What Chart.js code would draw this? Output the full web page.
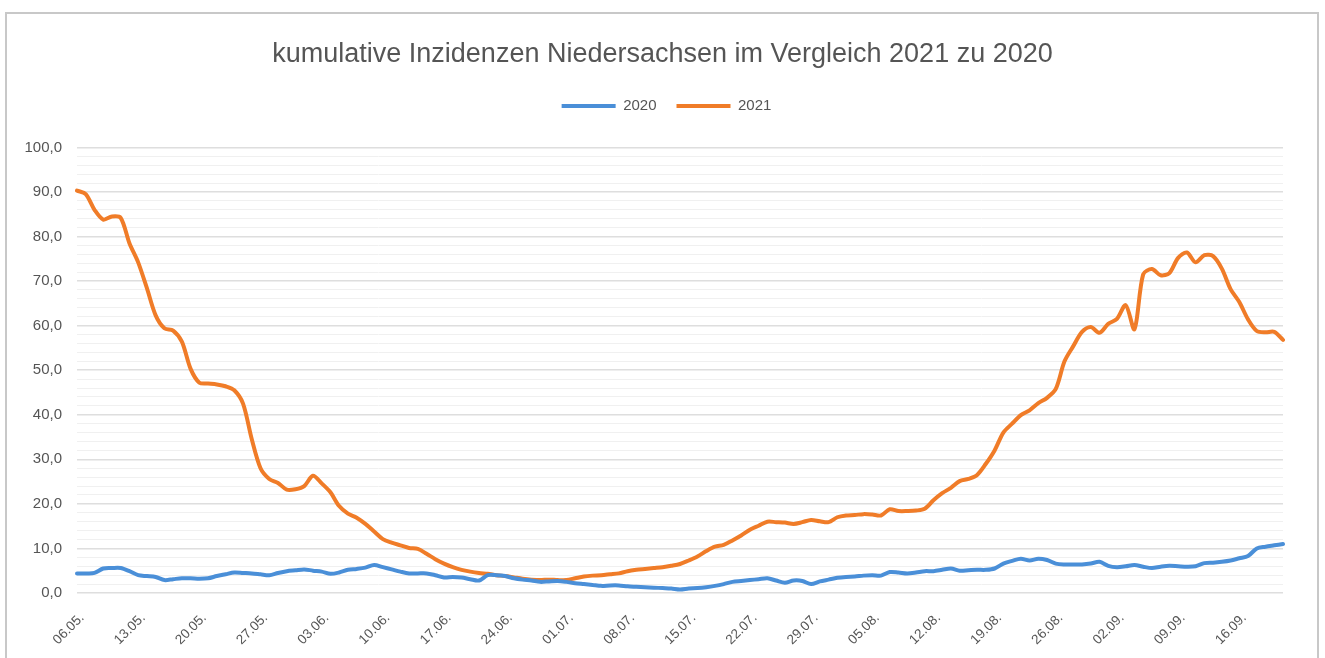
<!DOCTYPE html>
<html>
<head>
<meta charset="utf-8">
<script src="https://cdn.jsdelivr.net/npm/chart.js@4"></script>
<style>
  html, body { margin: 0; padding: 0; background: #fff; }
  #frame { position: absolute; left: 5px; top: 12px; width: 1314px; height: 700px;
           border: 2px solid #c8c8c8; box-sizing: border-box; }
  #wrap { position: absolute; left: 0; top: 0; width: 1325px; height: 658px; }
</style>
</head>
<body>
<div id="frame"></div>
<div id="wrap"><canvas id="c" width="1325" height="658"></canvas></div>
<script>
// ---- data ----
const startDay = { day: 6, month: 5, year: 2021 };
const dayCount = 139; // 06.05. ... 21.09.
const labels = [];
(function () {
  const d = new Date(Date.UTC(startDay.year, startDay.month - 1, startDay.day));
  for (let i = 0; i < dayCount; i++) {
    const dd = String(d.getUTCDate()).padStart(2, '0');
    const mm = String(d.getUTCMonth() + 1).padStart(2, '0');
    labels.push(dd + '.' + mm + '.');
    d.setUTCDate(d.getUTCDate() + 1);
  }
})();

const values2020 = [
  4.4, 4.4, 4.5, 5.5, 5.6, 5.6, 4.9, 4.0, 3.8, 3.6,
  2.9, 3.1, 3.3, 3.3, 3.2, 3.3, 3.8, 4.2, 4.6, 4.5,
  4.4, 4.2, 4.0, 4.5, 4.9, 5.1, 5.3, 5.0, 4.8, 4.3,
  4.6, 5.2, 5.4, 5.7, 6.3, 5.8, 5.3, 4.8, 4.4, 4.4,
  4.4, 4.0, 3.5, 3.6, 3.5, 3.1, 2.8, 4.0, 4.0, 3.8,
  3.3, 3.0, 2.8, 2.5, 2.6, 2.7, 2.5, 2.2, 2.0, 1.8,
  1.6, 1.7, 1.7, 1.5, 1.4, 1.3, 1.2, 1.1, 1.0, 0.8,
  1.0, 1.1, 1.3, 1.6, 2.0, 2.5, 2.7, 2.9, 3.1, 3.3,
  2.8, 2.3, 2.8, 2.7, 2.0, 2.6, 3.0, 3.4, 3.6, 3.7,
  3.9, 4.0, 3.9, 4.7, 4.6, 4.4, 4.6, 4.9, 4.9, 5.2,
  5.5, 5.0, 5.1, 5.2, 5.2, 5.5, 6.6, 7.2, 7.7, 7.3,
  7.7, 7.4, 6.6, 6.4, 6.4, 6.4, 6.6, 7.0, 6.1, 5.8,
  6.0, 6.3, 5.9, 5.6, 5.9, 6.1, 6.0, 5.9, 6.0, 6.7,
  6.8, 7.0, 7.3, 7.8, 8.3, 10.0, 10.4, 10.7, 11.0
];

const values2021 = [
  90.3, 89.5, 86.0, 83.8, 84.5, 84.2, 78.5, 74.2, 68.4, 62.3,
  59.4, 58.9, 56.4, 50.3, 47.2, 47.0, 46.8, 46.4, 45.5, 42.5,
  34.5, 28.0, 25.6, 24.7, 23.2, 23.3, 24.0, 26.3, 24.6, 22.6,
  19.5, 17.8, 16.9, 15.5, 13.8, 12.1, 11.3, 10.7, 10.1, 9.9,
  8.8, 7.6, 6.6, 5.8, 5.2, 4.8, 4.5, 4.3, 4.0, 3.8,
  3.5, 3.2, 3.0, 2.9, 3.0, 2.9, 2.9, 3.3, 3.7, 3.9,
  4.0, 4.2, 4.4, 4.9, 5.2, 5.4, 5.6, 5.8, 6.1, 6.5,
  7.3, 8.2, 9.4, 10.4, 10.8, 11.8, 12.9, 14.2, 15.1, 16.0,
  15.9, 15.8, 15.5, 15.9, 16.4, 16.1, 15.9, 17.0, 17.4, 17.5,
  17.7, 17.6, 17.4, 18.8, 18.4, 18.4, 18.5, 18.9, 20.8, 22.4,
  23.6, 25.1, 25.6, 26.5, 29.0, 32.0, 36.0, 38.0, 39.9, 41.0,
  42.6, 43.8, 45.8, 52.0, 55.4, 58.6, 59.7, 58.4, 60.4, 61.5,
  64.6, 59.2, 71.5, 72.7, 71.3, 71.8, 75.2, 76.4, 74.2, 75.8,
  75.6, 72.8, 68.2, 65.3, 61.4, 58.8, 58.5, 58.6, 56.8
];

const seriesNames = ['2020', '2021'];
const titleText = 'kumulative Inzidenzen Niedersachsen im Vergleich 2021 zu 2020';
const yMin = 0, yMax = 100, yStep = 2, yLabelEvery = 10, xLabelEvery = 7;

// ---- chart ----
const FONT = "'Liberation Sans', Arial, Helvetica, sans-serif";
Chart.defaults.font.family = FONT;

const headerLayout = {
  id: 'headerLayout',
  beforeInit(chart) {
    const fit = chart.legend.fit;
    chart.legend.fit = function () { fit.call(this); this.height += 24; };
  },
  afterLayout(chart) {
    if (chart.titleBlock) chart.titleBlock.left += 34;
    if (chart.legend) chart.legend.left += 42;
  }
};

new Chart(document.getElementById('c'), {
  type: 'line',
  data: {
    labels: labels,
    datasets: [
      { label: seriesNames[0], data: values2020, borderColor: '#4a8fd8', backgroundColor: '#4a8fd8',
        borderWidth: 4, pointRadius: 0, tension: 0.3, borderCapStyle: 'round', borderJoinStyle: 'round' },
      { label: seriesNames[1], data: values2021, borderColor: '#f07c28', backgroundColor: '#f07c28',
        borderWidth: 4, pointRadius: 0, tension: 0.3, borderCapStyle: 'round', borderJoinStyle: 'round' }
    ]
  },
  plugins: [headerLayout],
  options: {
    responsive: false,
    animation: false,
    layout: { padding: { left: 8, right: 42, top: 38, bottom: 0 } },
    plugins: {
      title: {
        display: true, text: titleText, color: '#555',
        font: { size: 27, weight: 'normal', family: FONT },
        padding: { top: 0, bottom: 8 }
      },
      legend: {
        display: true, position: 'top', align: 'center',
        labels: {
          color: '#555', font: { size: 15, family: FONT },
          boxWidth: 54, boxHeight: 4, padding: 20,
          generateLabels: (chart) => Chart.defaults.plugins.legend.labels.generateLabels(chart)
            .map(l => Object.assign(l, { lineWidth: 0, fillStyle: l.strokeStyle }))
        }
      },
      tooltip: { enabled: false }
    },
    scales: {
      x: {
        grid: { display: false },
        border: { display: false },
        ticks: {
          autoSkip: false, maxRotation: 45, minRotation: 45,
          color: '#555', font: { size: 13.5, family: FONT }, padding: 9, labelOffset: 5,
          callback: function (v, i) { return i % xLabelEvery === 0 ? labels[i] : ''; }
        },
        afterFit: (s) => { s.height = 65; }
      },
      y: {
        min: yMin, max: yMax,
        border: { display: false },
        grid: {
          drawTicks: false,
          color: (ctx) => (ctx.tick && ctx.tick.value % yLabelEvery === 0) ? '#dedede' : '#f0f0f0',
          lineWidth: (ctx) => (ctx.tick && ctx.tick.value % yLabelEvery === 0) ? 1.6 : 1
        },
        ticks: {
          stepSize: yStep, autoSkip: false, color: '#555', padding: 15,
          font: { size: 15, family: FONT },
          callback: (v) => v % yLabelEvery === 0 ? v.toFixed(1).replace('.', ',') : ''
        },
        afterFit: (s) => { s.width = 69; }
      }
    }
  }
});
</script>
</body>
</html>
